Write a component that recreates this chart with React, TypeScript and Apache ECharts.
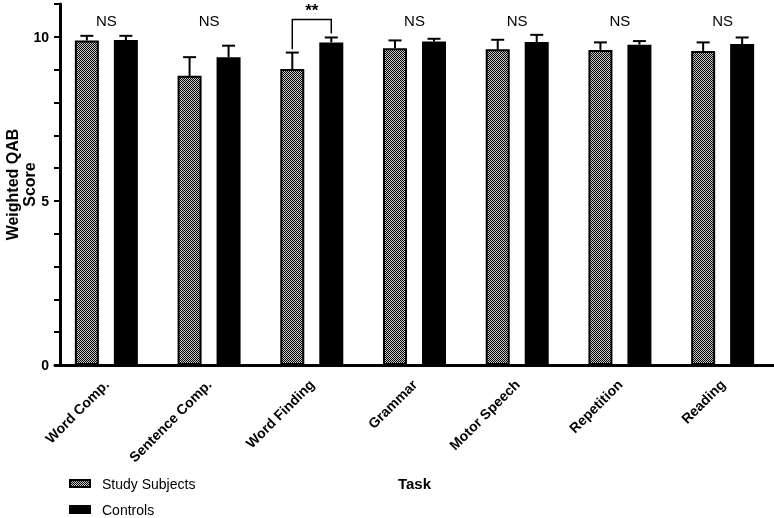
import React, { useEffect, useRef } from 'react';
import * as echarts from 'echarts';

const categories = ['Word Comp.', 'Sentence Comp.', 'Word Finding', 'Grammar', 'Motor Speech', 'Repetition', 'Reading'];
const studyMeans = [9.89, 8.81, 9.02, 9.65, 9.62, 9.6, 9.57];
const studyErr = [0.14, 0.57, 0.5, 0.24, 0.29, 0.23, 0.26];
const controlMeans = [9.9, 9.38, 9.83, 9.86, 9.84, 9.76, 9.78];
const controlErr = [0.13, 0.35, 0.15, 0.08, 0.22, 0.11, 0.2];
const significance = ['NS', 'NS', '**', 'NS', 'NS', 'NS', 'NS'];
const significanceY = [10.5, 10.5, 10.8, 10.5, 10.5, 10.5, 10.5];
// bracket: [category index, top value, left leg end, right leg end]
const brackets = [[2, 10.53, 9.62, 10.1]];
const yLabelValues = [0, 5, 10];

const FONT = "'Liberation Sans', Arial, sans-serif";
const BAR_W = 24;
const BAR_GAP = 0.625;
const OFFSET = (BAR_W * (1 + BAR_GAP)) / 2;

export default function App() {
  const ref = useRef<HTMLDivElement>(null);
  useEffect(() => {
    if (!ref.current) return;
    const chart = echarts.init(ref.current, undefined, { renderer: 'svg' });
    const cv = document.createElement('canvas');
    cv.width = 2;
    cv.height = 2;
    const ctx = cv.getContext('2d')!;
    ctx.fillStyle = '#c8c8c8';
    ctx.fillRect(0, 0, 2, 2);
    ctx.fillStyle = '#000000';
    ctx.fillRect(0, 0, 1, 1);
    ctx.fillRect(1, 1, 1, 1);
    const pattern = { image: cv, repeat: 'repeat' };

    const errRender = (offset: number) => (params: any, api: any) => {
      const idx = api.value(0);
      const mean = api.value(1);
      const err = api.value(2);
      const p0 = api.coord([idx, mean]);
      const p1 = api.coord([idx, mean + err]);
      const x = p0[0] + offset;
      return {
        type: 'group',
        children: [
          { type: 'line', shape: { x1: x, y1: p0[1], x2: x, y2: p1[1] }, style: { stroke: '#000', lineWidth: 2 } },
          { type: 'line', shape: { x1: x - 6.5, y1: p1[1], x2: x + 6.5, y2: p1[1] }, style: { stroke: '#000', lineWidth: 2 } },
        ],
      };
    };

    chart.setOption({
      animation: false,
      grid: { left: 55, right: 0, top: 4, bottom: 153, containLabel: false, outerBoundsMode: 'none' },
      legend: {
        orient: 'vertical',
        left: 69,
        top: 476,
        padding: 0,
        itemWidth: 20,
        itemHeight: 7,
        itemGap: 11,
        icon: 'rect',
        data: ['Study Subjects', 'Controls'],
        textStyle: { fontFamily: FONT, fontSize: 14, color: '#000', lineHeight: 15, padding: [0, 0, 0, 7] },
      },
      xAxis: {
        type: 'category',
        data: categories,
        name: 'Task',
        nameLocation: 'middle',
        nameGap: 111,
        nameMoveOverlap: false,
        nameTextStyle: { fontFamily: FONT, fontSize: 15, fontWeight: 'bold', color: '#000' },
        axisLine: { lineStyle: { color: '#000', width: 3 } },
        axisTick: { alignWithLabel: true, length: 7, lineStyle: { color: '#000', width: 2 } },
        axisLabel: { rotate: 45, interval: 0, margin: 17, fontFamily: FONT, fontSize: 14, fontWeight: 'bold', color: '#000' },
      },
      yAxis: {
        type: 'value',
        min: 0,
        max: 11,
        interval: 1,
        offset: -5,
        name: 'Weighted QAB\nScore',
        nameLocation: 'middle',
        nameGap: 22,
        nameMoveOverlap: false,
        nameTextStyle: { fontFamily: FONT, fontSize: 16, fontWeight: 'bold', color: '#000', lineHeight: 17 },
        axisLine: { show: true, lineStyle: { color: '#000', width: 3 } },
        axisTick: { show: true, length: 6, lineStyle: { color: '#000', width: 2 } },
        splitLine: { show: false },
        axisLabel: {
          margin: 11,
          fontFamily: FONT,
          fontSize: 14,
          fontWeight: 'bold',
          color: '#000',
          formatter: (v: number) => (yLabelValues.indexOf(v) >= 0 ? String(v) : ''),
        },
      },
      series: [
        {
          name: 'Study Subjects',
          type: 'bar',
          data: studyMeans,
          barWidth: BAR_W,
          barGap: BAR_GAP * 100 + '%',
          itemStyle: { color: pattern, borderColor: '#000', borderWidth: 2 },
        },
        {
          name: 'Controls',
          type: 'bar',
          data: controlMeans,
          barWidth: BAR_W,
          barGap: BAR_GAP * 100 + '%',
          itemStyle: { color: '#000', borderColor: '#000', borderWidth: 2 },
        },
        {
          type: 'custom',
          z: 5,
          renderItem: errRender(-OFFSET),
          data: studyMeans.map((m, i) => [i, m, studyErr[i]]),
          encode: { x: 0, y: 1 },
        },
        {
          type: 'custom',
          z: 5,
          renderItem: errRender(OFFSET),
          data: controlMeans.map((m, i) => [i, m, controlErr[i]]),
          encode: { x: 0, y: 1 },
        },
        {
          type: 'custom',
          z: 5,
          renderItem: (params: any, api: any) => {
            const idx = api.value(0);
            const p = api.coord([idx, api.value(1)]);
            const txt = significance[params.dataIndex];
            const stars = txt !== 'NS';
            return {
              type: 'text',
              x: p[0],
              y: p[1],
              style: {
                text: txt,
                align: 'center',
                verticalAlign: 'middle',
                fontFamily: FONT,
                fontSize: stars ? 17 : 15,
                fontWeight: stars ? 'bold' : 'normal',
                fill: '#000',
              },
            };
          },
          data: significance.map((s, i) => [i, significanceY[i]]),
          encode: { x: 0, y: 1 },
        },
        {
          type: 'custom',
          z: 5,
          renderItem: (params: any, api: any) => {
            const idx = api.value(0);
            const top = api.coord([idx, api.value(1)]);
            const l = api.coord([idx, api.value(2)]);
            const r = api.coord([idx, api.value(3)]);
            const xl = top[0] - OFFSET;
            const xr = top[0] + OFFSET;
            return {
              type: 'polyline',
              shape: { points: [[xl, l[1]], [xl, top[1]], [xr, top[1]], [xr, r[1]]] },
              style: { stroke: '#000', lineWidth: 1.5, fill: null },
            };
          },
          data: brackets,
          encode: { x: 0, y: 1 },
        },
      ],
    });
    return () => chart.dispose();
  }, []);
  return (
    <div style={{ position: 'fixed', left: 0, top: 0 }}>
      <div ref={ref} style={{ width: 774, height: 518 }} />
    </div>
  );
}
